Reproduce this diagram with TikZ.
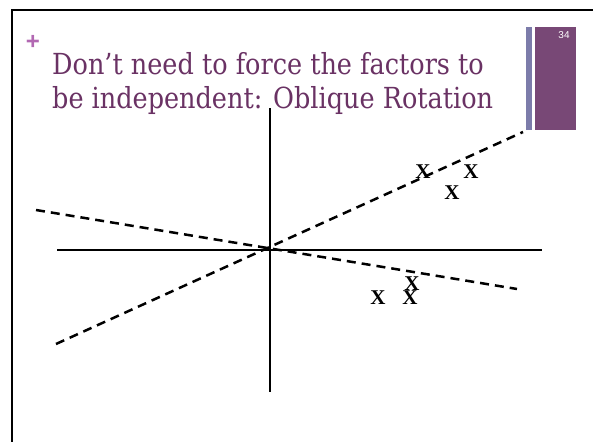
\documentclass[tikz,border=0pt]{standalone}
\usepackage{fontspec}
\setmainfont[FakeStretch=0.88]{DejaVu Serif}
\newfontfamily\xfont{Liberation Serif}
\newfontfamily\numfont{Liberation Sans}
\definecolor{titlepurple}{RGB}{106,50,100}
\definecolor{barpurple}{RGB}{120,72,118}
\definecolor{barblue}{RGB}{124,124,170}
\definecolor{pluspink}{RGB}{178,104,178}
\begin{document}
\begin{tikzpicture}[x=1pt,y=-1pt,
  axis/.style={line width=2pt},
  obl/.style={line width=2.5pt,dash pattern=on 9pt off 6pt},
  xmark/.style={font=\xfont\bfseries\fontsize{21}{21}\selectfont,inner sep=0pt},
  titletext/.style={font=\fontsize{29}{29}\selectfont,text=titlepurple,anchor=base west,inner sep=0pt}]
\useasboundingbox (0,0) rectangle (593,441);
\fill[white] (0,0) rectangle (593,441);
% slide frame
\draw[line width=2.6pt] (12,442) -- (12,10) -- (594,10);
% bars
\fill[barblue] (526,27) rectangle (532,130);
\fill[barpurple] (535,27) rectangle (576,130);
\node[font=\numfont\fontsize{10}{10}\selectfont,text=white] (num) at (564,35) {34};
% plus
\node[font=\numfont\bfseries\fontsize{24}{24}\selectfont,text=pluspink,inner sep=0pt] (plus) at (33,42) {+};
% title
\node[titletext] (t1) at (52,75) {Don’t need to force the factors to};
\node[titletext] (t2) at (52,108) {be independent: Oblique Rotation};
% axes
\coordinate (o) at (270,250);
\coordinate (vt) at (270,108);
\coordinate (vb) at (270,392);
\coordinate (hl) at (57,250);
\coordinate (hr) at (542,250);
\draw[axis] (vt) -- (vb);
\draw[axis] (hl) -- (hr);
% oblique axes
\coordinate (a1) at (56,344);
\coordinate (a2) at (523,132);
\coordinate (b1) at (36,210);
\coordinate (b2) at (517,289);
\draw[obl] (a1) -- (a2);
\draw[obl] (b1) -- (b2);
% X marks
\node[xmark] (x1) at (423,172) {X};
\node[xmark] (x2) at (471,172) {X};
\node[xmark] (x3) at (452,193) {X};
\node[xmark] (x4) at (412,284) {X};
\node[xmark] (x5) at (410,298) {X};
\node[xmark] (x6) at (378,298) {X};
\end{tikzpicture}
\end{document}
